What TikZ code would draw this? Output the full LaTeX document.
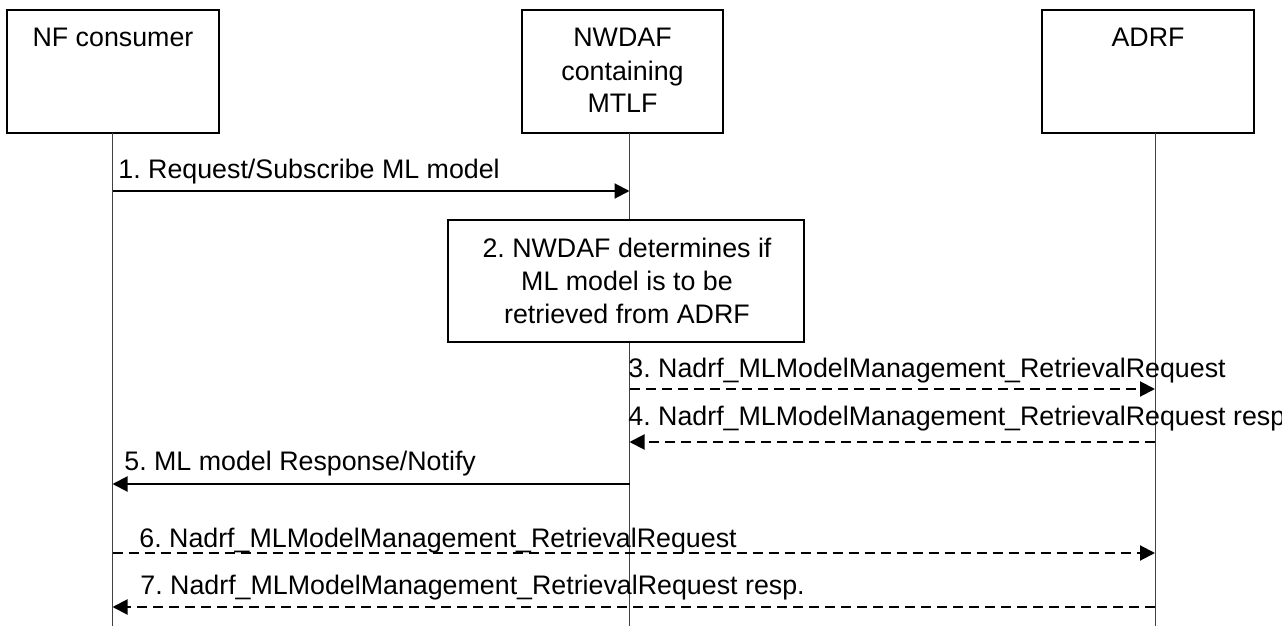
\documentclass[tikz,border=0pt]{standalone}
\usepackage{fontspec}
\setmainfont{Liberation Sans}
\usetikzlibrary{arrows.meta, positioning}

\begin{document}
\begin{tikzpicture}[
  x=0.5pt, y=-0.5pt,
  every node/.style={font=\fontsize{13.4}{16.5}\selectfont\frenchspacing, inner sep=0pt},
  entity/.style={draw, line width=1pt, minimum width=106pt, minimum height=61.5pt},
  lifeline/.style={line width=0.5pt, black!75},
  msg/.style={-{Triangle[length=7.5pt, width=7.5pt]}, line width=1pt},
  dmsg/.style={msg, dash pattern=on 5pt off 3pt},
  lbl/.style={anchor=base west}
]
\useasboundingbox (0,0) rectangle (1282,626);

% entities
\node[entity] (nf) at (113,71.5) {};
\node[entity, minimum width=100.5pt] (nw) at (622.5,71.5) {};
\node[entity] (adrf) at (1148,71.5) {};
\node[anchor=base] (nf-name) at (113,47) {NF consumer};
\node[anchor=base, align=center] (nw-name) at (622.5,113) {NWDAF\\containing\\MTLF};
\node[anchor=base] (adrf-name) at (1148,47) {ADRF};

% lifelines
\coordinate (nf-top) at (112.5,133);
\coordinate (nw-top) at (629.5,133);
\coordinate (adrf-top) at (1155,133);
\coordinate (nf-end) at (112.5,626);
\coordinate (nw-end) at (629.5,626);
\coordinate (adrf-end) at (1155,626);
\draw[lifeline] (nf-top) -- (nf-end);
\draw[lifeline] (nw-top) -- (nw-end);
\draw[lifeline] (adrf-top) -- (adrf-end);

% step 2
\node[entity, fill=white, minimum width=178pt, minimum height=61pt] (decide) at (626,281) {};
\node[anchor=base, align=center] (decide-txt) at (627,323) {2. NWDAF determines if\\ML model is to be\\retrieved from ADRF};

% messages
\coordinate (nf-1) at (112.5,191);   \coordinate (nw-1) at (629.5,191);
\coordinate (nw-3) at (629.5,389);   \coordinate (adrf-3) at (1155,389);
\coordinate (nw-4) at (629.5,442);   \coordinate (adrf-4) at (1155,442);
\coordinate (nf-5) at (112.5,484);   \coordinate (nw-5) at (629.5,484);
\coordinate (nf-6) at (112.5,553);   \coordinate (adrf-6) at (1155,553);
\coordinate (nf-7) at (112.5,607);   \coordinate (adrf-7) at (1155,607);

\draw[msg] (nf-1) -- (nw-1);
\draw[dmsg] (nw-3) -- (adrf-3);
\draw[dmsg] (adrf-4) -- (nw-4);
\draw[msg] (nw-5) -- (nf-5);
\draw[dmsg] (nf-6) -- (adrf-6);
\draw[dmsg] (adrf-7) -- (nf-7);

\node[lbl] (m1) at (118,179) {1. Request/Subscribe ML model};
\node[lbl] (m3) at (628,378) {3. Nadrf\_MLModelManagement\_RetrievalRequest};
\node[lbl] (m4) at (628,425) {4. Nadrf\_MLModelManagement\_RetrievalRequest resp.};
\node[lbl] (m5) at (124,470) {5. ML model Response/Notify};
\node[lbl] (m6) at (139,547) {6. Nadrf\_MLModelManagement\_RetrievalRequest};
\node[lbl] (m7) at (140,594) {7. Nadrf\_MLModelManagement\_RetrievalRequest resp.};
\end{tikzpicture}
\end{document}
